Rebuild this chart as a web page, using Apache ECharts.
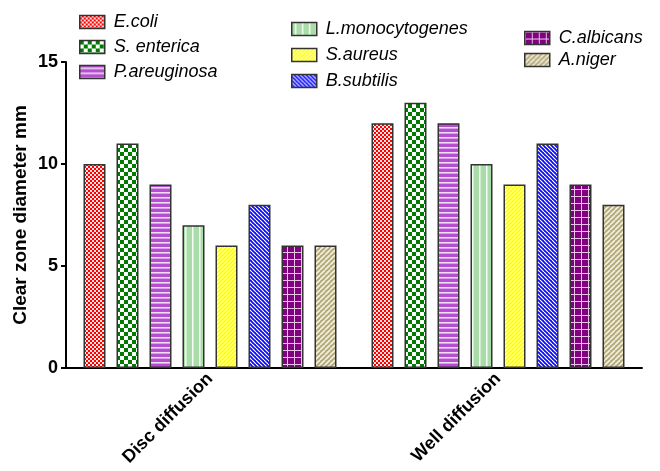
<!DOCTYPE html>
<html><head><meta charset="utf-8">
<script src="https://cdn.jsdelivr.net/npm/echarts@6/dist/echarts.min.js"></script>
<style>html,body{margin:0;padding:0;background:#fff}#c{width:660px;height:471px}</style>
</head><body><div id="c"></div>
<script>
var categories = ['Disc diffusion', 'Well diffusion'];
var organisms = ['E.coli', 'S. enterica', 'P.areuginosa', 'L.monocytogenes', 'S.aureus', 'B.subtilis', 'C.albicans', 'A.niger'];
var ecoli = [10, 12];
var senterica = [11, 13];
var pareuginosa = [9, 12];
var lmono = [7, 10];
var saureus = [6, 9];
var bsubtilis = [8, 11];
var calbicans = [6, 9];
var aniger = [6, 8];
var yTicks = [0, 5, 10, 15];

function tile(w, h, fn) {
  var c = document.createElement('canvas');
  c.width = w; c.height = h;
  var g = c.getContext('2d');
  fn(g, w, h);
  return { image: c, repeat: 'repeat' };
}
function diag(bg, fg, p, lw, dir) {
  return tile(p, p, function (g, w, h) {
    g.fillStyle = bg; g.fillRect(0, 0, w, h);
    g.strokeStyle = fg; g.lineWidth = lw;
    for (var k = -1; k <= 1; k++) {
      g.beginPath();
      if (dir > 0) { g.moveTo(k * p, p); g.lineTo(k * p + p, 0); }
      else { g.moveTo(k * p, 0); g.lineTo(k * p + p, p); }
      g.stroke();
    }
  });
}
var patterns = [
  tile(4, 4, function (g) { g.fillStyle = '#ff0000'; g.fillRect(0, 0, 4, 4); g.fillStyle = '#ffe0e0'; g.fillRect(0, 0, 2, 2); g.fillRect(2, 2, 2, 2); }),
  tile(8, 8, function (g) { g.fillStyle = '#ffffff'; g.fillRect(0, 0, 8, 8); g.fillStyle = '#007a00'; g.fillRect(0, 0, 4, 4); g.fillRect(4, 4, 4, 4); }),
  tile(2, 5, function (g) { g.fillStyle = '#b44fd0'; g.fillRect(0, 0, 2, 5); g.fillStyle = '#f2dcf7'; g.fillRect(0, 2, 2, 1); g.fillStyle = '#d79fe6'; g.fillRect(0, 3, 2, 1); }),
  tile(7, 2, function (g) { g.fillStyle = '#aadcaa'; g.fillRect(0, 0, 7, 2); g.fillStyle = '#f2faf2'; g.fillRect(3, 0, 1, 2); g.fillStyle = '#d2ecd2'; g.fillRect(4, 0, 1, 2); }),
  diag('#ffff00', '#ffffff', 4, 1.2, 1),
  diag('#0a0aff', '#ffffff', 4, 1.2, -1),
  tile(7, 7, function (g) { g.fillStyle = '#800080'; g.fillRect(0, 0, 7, 7); g.fillStyle = '#e6c4e6'; g.fillRect(0, 0, 7, 1); g.fillRect(0, 0, 1, 7); }),
  diag('#b3a877', '#f4f0e2', 5, 1.6, 1)
];
var seriesData = [ecoli, senterica, pareuginosa, lmono, saureus, bsubtilis, calbicans, aniger];

var font = 'Liberation Sans, Arial, Helvetica, sans-serif';
function legendBlock(names, left, top, gap) {
  return {
    data: names, orient: 'vertical', left: left, top: top, itemGap: gap,
    itemWidth: 25, itemHeight: 13, icon: 'rect',
    itemStyle: { borderColor: '#333', borderWidth: 1.5 },
    textStyle: { fontFamily: font, fontStyle: 'italic', fontSize: 18, lineHeight: 18, color: '#000', padding: [0, 0, 0, 4] }
  };
}

var chart = echarts.init(document.getElementById('c'), null, { renderer: 'canvas' });
chart.setOption({
  animation: false,
  backgroundColor: '#fff',
  legend: [
    legendBlock(organisms.slice(0, 3), 74, 8, 7),
    legendBlock(organisms.slice(3, 6), 286, 15, 8),
    legendBlock(organisms.slice(6, 8), 519, 24, 4)
  ],
  grid: { left: 66, right: 18, top: 62, bottom: 103, containLabel: false },
  xAxis: {
    type: 'category', data: categories,
    axisLine: { lineStyle: { color: '#000', width: 2 } },
    axisTick: { alignWithLabel: true, length: 5, lineStyle: { color: '#000', width: 2 } },
    axisLabel: { rotate: 45, margin: 8, color: '#000', fontFamily: font, fontWeight: 'bold', fontSize: 18 }
  },
  yAxis: {
    type: 'value', min: yTicks[0], max: yTicks[yTicks.length - 1], interval: 5,
    name: 'Clear zone diameter mm', nameLocation: 'middle', nameGap: 36, nameMoveOverlap: false,
    nameTextStyle: { fontFamily: font, fontWeight: 'bold', fontSize: 19, color: '#000' },
    axisLine: { show: true, lineStyle: { color: '#000', width: 2 } },
    axisTick: { show: true, length: 5, lineStyle: { color: '#000', width: 2 } },
    axisLabel: { margin: 8, color: '#000', fontFamily: font, fontWeight: 'bold', fontSize: 18 },
    splitLine: { show: false }
  },
  series: organisms.map(function (n, i) {
    return {
      name: n, type: 'bar', data: seriesData[i], barWidth: 22, barGap: '50%',
      itemStyle: { color: patterns[i], borderColor: '#333', borderWidth: 1.5 }
    };
  })
});
</script></body></html>
